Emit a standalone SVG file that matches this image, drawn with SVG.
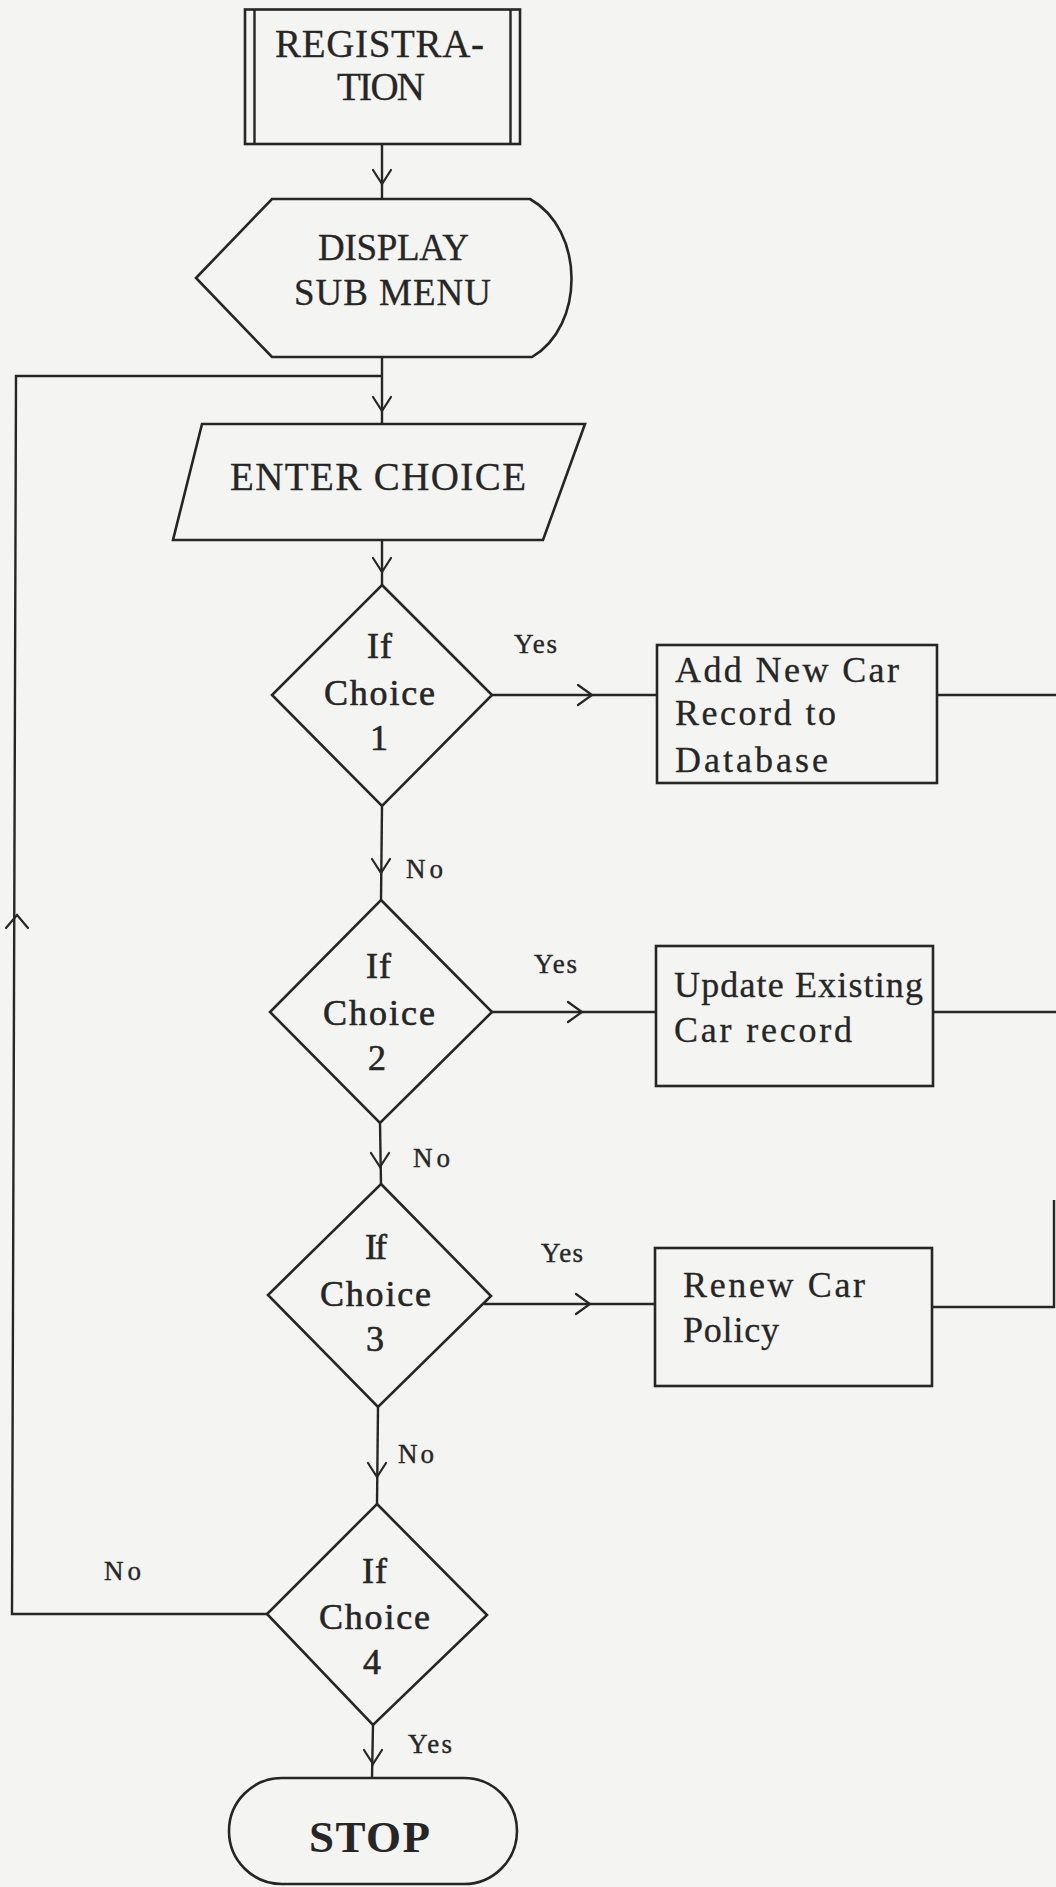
<svg xmlns="http://www.w3.org/2000/svg" width="1056" height="1887" viewBox="0 0 1056 1887">
<style>
.bg{fill:#f4f4f2}
.sh{fill:none;stroke:#262626;stroke-width:2.6;stroke-linejoin:miter}
.ln{fill:none;stroke:#262626;stroke-width:2.4}
.ah{fill:none;stroke:#262626;stroke-width:2.2;stroke-linecap:round;stroke-linejoin:miter}
text{font-family:"Liberation Serif","Times New Roman",serif;fill:#262626}
.t40{font-size:39px;stroke:#262626;stroke-width:0.3}
.t37{font-size:37px;stroke:#262626;stroke-width:0.3}
.t39{font-size:39px;stroke:#262626;stroke-width:0.3}
.dt{font-size:36px;stroke:#262626;stroke-width:0.6}
.bt{font-size:36px;stroke:#262626;stroke-width:0.3}
.lb{font-size:27px;stroke:#262626;stroke-width:0.4}
.st{font-size:45px;font-weight:bold}
</style>
<rect class="bg" x="0" y="0" width="1056" height="1887"/>

<g id="connectors">
  <path class="ln" d="M382,144 L382,199"/>
  <path class="ln" d="M382,357 L382,424"/>
  <path class="ln" d="M267,1614 L12,1614 L16,376 L382,376"/>
  <path class="ln" d="M382,540 L382,585"/>
  <path class="ln" d="M492,695 L657,695"/>
  <path class="ln" d="M937,695 L1056,695"/>
  <path class="ln" d="M382,806 L381,900"/>
  <path class="ln" d="M492,1012 L656,1012"/>
  <path class="ln" d="M933,1012 L1056,1012"/>
  <path class="ln" d="M380,1123 L381,1184"/>
  <path class="ln" d="M484,1304 L655,1304"/>
  <path class="ln" d="M932,1307 L1054,1307 L1054,1200"/>
  <path class="ln" d="M378,1407 L377,1504"/>
  <path class="ln" d="M373,1725 L372,1778"/>
  <!-- arrowheads -->
  <path class="ah" d="M373,170 L382,184 L391,170"/>
  <path class="ah" d="M373,397 L382,411 L391,397"/>
  <path class="ah" d="M373,558 L382,572 L391,558"/>
  <path class="ah" d="M372,859 L381,873 L390,859"/>
  <path class="ah" d="M371,1153 L380,1167 L389,1153"/>
  <path class="ah" d="M368,1463 L377,1477 L386,1463"/>
  <path class="ah" d="M364,1750 L373,1764 L382,1750"/>
  <path class="ah" d="M578,685 L592,695 L578,705"/>
  <path class="ah" d="M568,1002 L582,1012 L568,1022"/>
  <path class="ah" d="M576,1294 L590,1304 L576,1314"/>
  <path class="ah" d="M6,928 L17,915 L28,928"/>
  <!-- labels -->
  <text class="lb" x="514" y="653" textLength="43" lengthAdjust="spacing">Yes</text>
  <text class="lb" x="406" y="878" textLength="37" lengthAdjust="spacing">No</text>
  <text class="lb" x="534" y="973" textLength="43" lengthAdjust="spacing">Yes</text>
  <text class="lb" x="413" y="1167" textLength="37" lengthAdjust="spacing">No</text>
  <text class="lb" x="541" y="1262" textLength="42" lengthAdjust="spacing">Yes</text>
  <text class="lb" x="398" y="1463" textLength="36" lengthAdjust="spacing">No</text>
  <text class="lb" x="104" y="1580" textLength="37" lengthAdjust="spacing">No</text>
  <text class="lb" x="408" y="1753" textLength="44" lengthAdjust="spacing">Yes</text>
</g>

<g id="registration">
  <rect class="sh" x="245" y="9.5" width="275" height="134.5"/>
  <path class="ln" d="M254.5,9.5 L254.5,144 M510.5,9.5 L510.5,144"/>
  <text class="t40" x="275" y="57" textLength="209" lengthAdjust="spacing">REGISTRA-</text>
  <text class="t40" x="337" y="100" textLength="88" lengthAdjust="spacing">TION</text>
</g>

<g id="display-sub-menu">
  <path class="sh" d="M196,278 L272,199 L530,199 C585,230 585,326 532,357 L272,357 Z"/>
  <text class="t37" x="318" y="260" textLength="151" lengthAdjust="spacing">DISPLAY</text>
  <text class="t37" x="294" y="305" textLength="197" lengthAdjust="spacing">SUB MENU</text>
</g>

<g id="enter-choice">
  <path class="sh" d="M202,424 L585,424 L543,540 L173,540 Z"/>
  <text class="t39" x="230" y="490" textLength="296" lengthAdjust="spacing">ENTER CHOICE</text>
</g>

<g id="choice1">
  <path class="sh" d="M382,585 L492,695 L382,806 L272,695 Z"/>
  <text class="dt" x="367" y="658" textLength="25" lengthAdjust="spacing">If</text>
  <text class="dt" x="324" y="705" textLength="111" lengthAdjust="spacing">Choice</text>
  <text class="dt" x="370" y="750">1</text>
</g>

<g id="add-new-car">
  <rect class="sh" x="657" y="645" width="280" height="138"/>
  <text class="bt" x="675" y="682" textLength="224" lengthAdjust="spacing">Add New Car</text>
  <text class="bt" x="675" y="725" textLength="161" lengthAdjust="spacing">Record to</text>
  <text class="bt" x="675" y="772" textLength="153" lengthAdjust="spacing">Database</text>
</g>

<g id="choice2">
  <path class="sh" d="M381,900 L492,1012 L380,1123 L270,1012 Z"/>
  <text class="dt" x="366" y="978" textLength="25" lengthAdjust="spacing">If</text>
  <text class="dt" x="323" y="1025" textLength="112" lengthAdjust="spacing">Choice</text>
  <text class="dt" x="368" y="1070">2</text>
</g>

<g id="update-existing">
  <rect class="sh" x="656" y="946" width="277" height="140"/>
  <text class="bt" x="674" y="997" textLength="249" lengthAdjust="spacing">Update Existing</text>
  <text class="bt" x="674" y="1042" textLength="178" lengthAdjust="spacing">Car  record</text>
</g>

<g id="choice3">
  <path class="sh" d="M381,1184 L491,1296 L378,1407 L268,1295 Z"/>
  <text class="dt" x="365" y="1259" textLength="22" lengthAdjust="spacing">If</text>
  <text class="dt" x="320" y="1306" textLength="111" lengthAdjust="spacing">Choice</text>
  <text class="dt" x="366" y="1351">3</text>
</g>

<g id="renew-policy">
  <rect class="sh" x="655" y="1248" width="277" height="138"/>
  <text class="bt" x="683" y="1297" textLength="182" lengthAdjust="spacing">Renew Car</text>
  <text class="bt" x="683" y="1342" textLength="96" lengthAdjust="spacing">Policy</text>
</g>

<g id="choice4">
  <path class="sh" d="M377,1504 L487,1615 L373,1725 L267,1614 Z"/>
  <text class="dt" x="362" y="1583" textLength="25" lengthAdjust="spacing">If</text>
  <text class="dt" x="319" y="1629" textLength="111" lengthAdjust="spacing">Choice</text>
  <text class="dt" x="363" y="1674">4</text>
</g>

<g id="stop">
  <rect class="sh" x="229" y="1778" width="288" height="106" rx="53" ry="53"/>
  <text class="st" x="309" y="1852" textLength="121" lengthAdjust="spacing">STOP</text>
</g>
</svg>
